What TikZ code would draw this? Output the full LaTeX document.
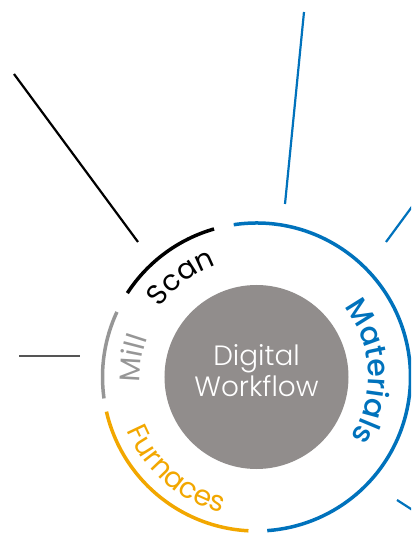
\documentclass[tikz,border=0pt]{standalone}
\usepackage{fontspec}
\setmainfont{Poppins}[UprightFont={* Light}]
\newfontfamily\ringbook{Poppins}
\newfontfamily\ringbold{Poppins}[UprightFont={* Medium}]
\usepackage{tikz}
\usetikzlibrary{decorations.text}

\definecolor{matblue}{RGB}{0,114,188}
\definecolor{furnorange}{RGB}{242,167,0}
\definecolor{millgray}{RGB}{150,150,150}
\definecolor{diskgray}{RGB}{145,141,140}
\definecolor{spokegray}{RGB}{85,85,85}
\newcommand{\arcfont}{\fontsize{28.5}{30}\selectfont}

\begin{document}
\begin{tikzpicture}[x=1bp,y=1bp]
\tikzstyle{ring}=[line width=3.5bp]
\tikzstyle{spoke}=[line width=2.2bp]
\useasboundingbox (-256.5,-158) rectangle (154.5,377);
\clip (-256.5,-158) rectangle (154.5,377);
% hub
\node [circle, fill=diskgray, minimum size=184bp, inner sep=0pt] (hub) at (0,0) {};
\node [text=white, align=center, font=\fontsize{28}{31}\selectfont] (hubtext) at (0,6) {Digital\\Workflow};
% rings
\draw [ring, matblue] (98.5:154) arc[start angle=98.5, end angle=-86, radius=154];
\draw [ring, black] (147:154) arc[start angle=147, end angle=106, radius=154];
\draw [ring, millgray] (188:154) arc[start angle=188, end angle=155, radius=154];
\draw [ring, furnorange] (193:154) arc[start angle=193, end angle=267, radius=154];
% spokes
\coordinate (scanin) at (-118.5,135);
\coordinate (scanout) at (-242.5,303);
\coordinate (matin) at (28.5,173);
\coordinate (matout) at (47.5,365);
\coordinate (matrin) at (129.5,135);
\coordinate (matrout) at (170,190);
\coordinate (matbin) at (140.5,-123);
\coordinate (matbout) at (170,-142);
\coordinate (millin) at (-176.5,21);
\coordinate (millout) at (-237.5,21);
\draw [spoke, black] (scanin) -- (scanout);
\draw [spoke, matblue] (matin) -- (matout);
\draw [spoke, matblue] (matrin) -- (matrout);
\draw [spoke, matblue] (matbin) -- (matbout);
\draw [spoke, spokegray] (millin) -- (millout);
% labels on the ring
\path [decorate, decoration={text along path, text align=center,
  text={|\ringbold\fontsize{30}{32}\selectfont\color{matblue}|Materials}}]
  (48:112) arc[start angle=48, end angle=-42, radius=112];
\path [decorate, decoration={text along path, text align=center,
  text={|\ringbook\arcfont\color{black}|Scan}}]
  (160:119) arc[start angle=160, end angle=94, radius=119];
\path [decorate, decoration={text along path, text align=center,
  text={|\ringbook\arcfont\color{millgray}|Mill}}]
  (195:116) arc[start angle=195, end angle=148, radius=116];
\path [decorate, decoration={text along path, text align=center,
  text={|\ringbook\arcfont\color{furnorange}|Furnaces}}]
  (190:140) arc[start angle=190, end angle=268, radius=140];
\end{tikzpicture}
\end{document}
